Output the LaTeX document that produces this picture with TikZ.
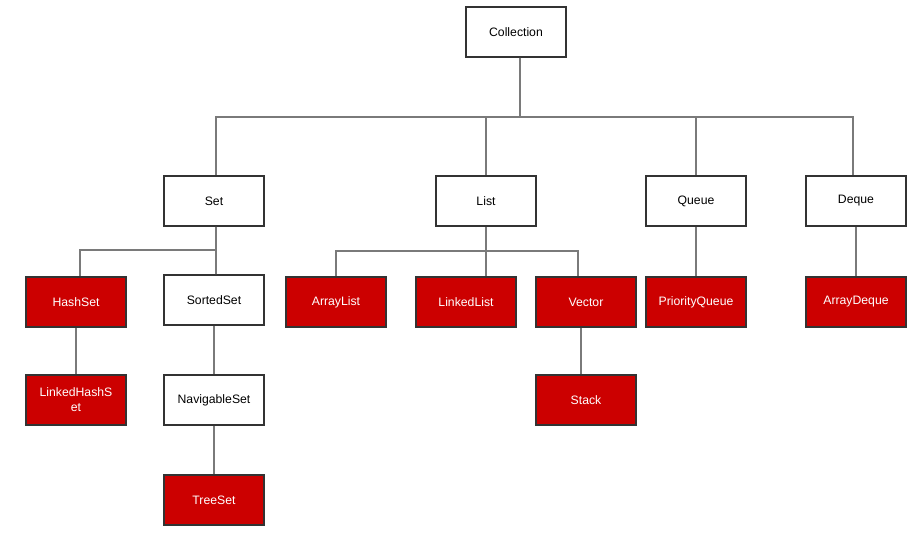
\documentclass[tikz,border=0pt]{standalone}
\usepackage{fontspec}
\setmainfont{Liberation Sans}
\usepackage{tikz}
\usetikzlibrary{positioning,calc}
\usepackage{xcolor}
\definecolor{boxred}{HTML}{CC0000}
\definecolor{edgegray}{HTML}{333333}
\definecolor{linkgray}{HTML}{7A7A7A}
\tikzset{
  ifacebox/.style={draw=edgegray, fill=white, line width=1.1pt, align=center, inner sep=2pt, minimum width=2.5cm, minimum height=1.25cm, font=\fontsize{8.7}{10.5}\selectfont, text=black},
  implbox/.style={draw=edgegray, fill=boxred, line width=1.1pt, align=center, inner sep=2pt, minimum width=2.5cm, minimum height=1.25cm, font=\fontsize{8.7}{10.5}\selectfont, text=white},
  link/.style={draw=linkgray, line width=1.3pt}
}

\begin{document}
\begin{tikzpicture}[x=0.025cm, y=-0.025cm]
\useasboundingbox (0,0) rectangle (922,538);
% ---- interfaces ----
\node[ifacebox] (Collection) at (516,32) {Collection};
\node[ifacebox] (Set) at (214,201) {Set};
\node[ifacebox] (List) at (486,201) {List};
\node[ifacebox] (Queue) at (696,201) {Queue};
\node[ifacebox] (Deque) at (856,201) {Deque};
\node[ifacebox] (SortedSet) at (214,300) {SortedSet};
\node[ifacebox] (NavigableSet) at (214,400) {NavigableSet};
% ---- implementations ----
\node[implbox] (HashSet) at (76,302) {HashSet};
\node[implbox] (LinkedHashSet) at (76,400) {LinkedHashS\\et};
\node[implbox] (TreeSet) at (214,500) {TreeSet};
\node[implbox] (ArrayList) at (336,302) {ArrayList};
\node[implbox] (LinkedList) at (466,302) {LinkedList};
\node[implbox] (Vector) at (586,302) {Vector};
\node[implbox] (Stack) at (586,400) {Stack};
\node[implbox] (PriorityQueue) at (696,302) {PriorityQueue};
\node[implbox] (ArrayDeque) at (856,302) {ArrayDeque};
% ---- Collection bus ----
\coordinate (topbus) at (520,117);
\draw[link] ([xshift=0.1cm]Collection.south) -- (topbus);
\draw[link] (topbus) -| ([xshift=0.05cm]Set.north);
\draw[link] (topbus) -| (List.north);
\draw[link] (topbus) -| (Queue.north);
\draw[link] (topbus) -| ([xshift=-0.075cm]Deque.north);
% ---- Set branch ----
\coordinate (setbus) at (216,250);
\draw[link] ([xshift=0.05cm]Set.south) -- (setbus) -- ([xshift=0.05cm]SortedSet.north);
\draw[link] (setbus) -| ([xshift=0.1cm]HashSet.north);
\draw[link] (HashSet) -- (LinkedHashSet);
\draw[link] (SortedSet) -- (NavigableSet);
\draw[link] (NavigableSet) -- (TreeSet);
% ---- List branch ----
\coordinate (listbus) at (486,251);
\draw[link] (List.south) -- (List.south |- LinkedList.north);
\draw[link] (listbus) -| (ArrayList.north);
\draw[link] (listbus) -| ([xshift=-0.2cm]Vector.north);
\draw[link] ([xshift=-0.125cm]Vector.south) -- ([xshift=-0.125cm]Stack.north);
% ---- Queue / Deque ----
\draw[link] (Queue) -- (PriorityQueue);
\draw[link] (Deque) -- (ArrayDeque);
\end{tikzpicture}
\end{document}
